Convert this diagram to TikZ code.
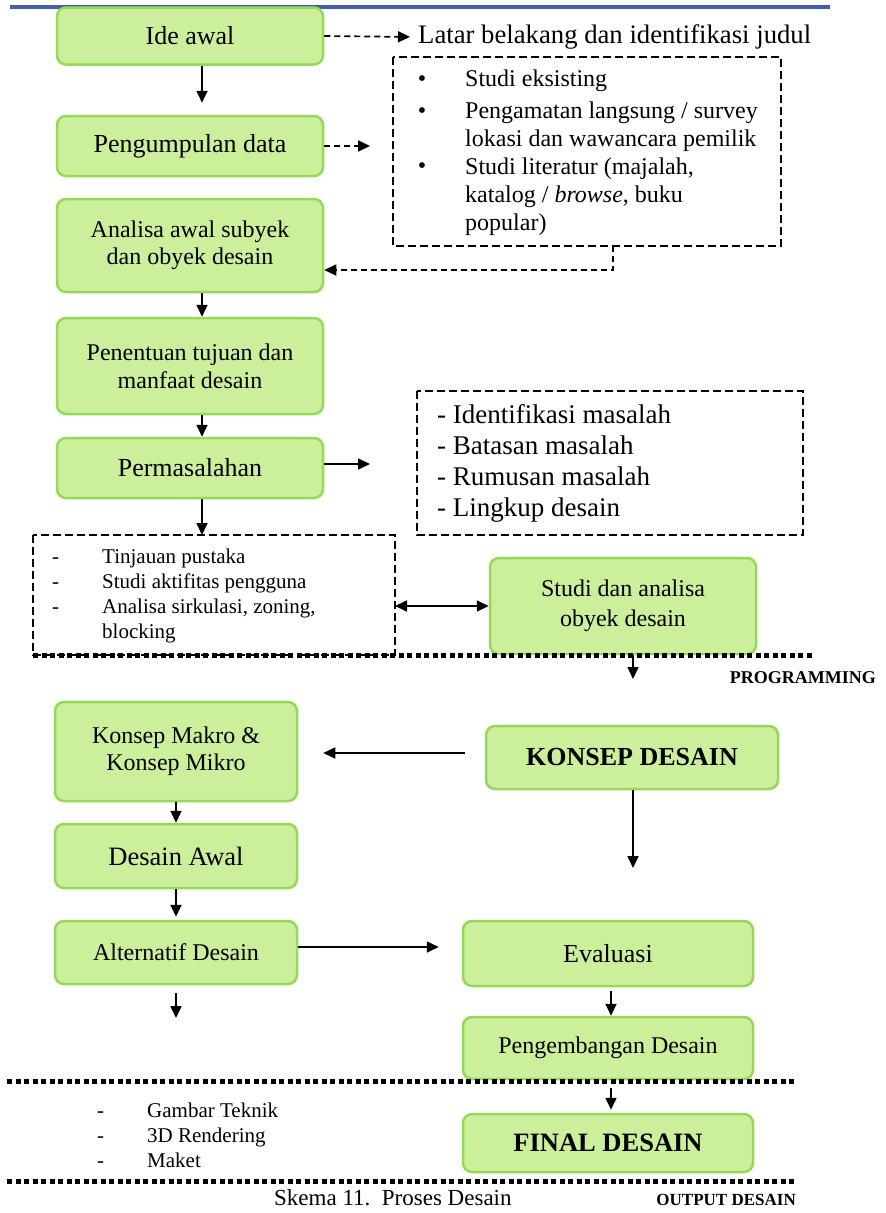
\documentclass[tikz,border=0pt]{standalone}
\usepackage{fontspec}
\setmainfont{Liberation Serif}
\usetikzlibrary{arrows.meta,calc}
\definecolor{gfill}{RGB}{204,239,156}
\definecolor{gdraw}{RGB}{150,216,88}
\definecolor{hblue}{RGB}{66,96,168}
\newcommand{\myfs}[2]{\fontsize{#1}{#2}\selectfont}
\tikzset{
  gbox/.style={draw=gdraw, fill=gfill, line width=2.5pt, rounded corners=9pt, align=center, inner sep=0pt},
  arr/.style={-{Triangle[length=12pt,width=11pt]}, line width=1.7pt},
  darr/.style={arr, dash pattern=on 6pt off 4pt},
  dbox/.style={draw, line width=1.6pt, dash pattern=on 8pt off 4pt},
  dotline/.style={line width=5pt, dash pattern=on 5pt off 3.5pt},
  plain/.style={inner sep=0pt, align=left},
}
\begin{document}
\begin{tikzpicture}[x=1pt,y=-1pt]
\useasboundingbox (0,0) rectangle (886,1213);
\fill[white] (0,0) rectangle (886,1213);
% header line
\draw[hblue, line width=4pt] (10,7) -- (830,7);

% left column
\node[gbox, minimum width=266pt, minimum height=57pt, font=\myfs{26}{30}] (ide) at (190,36) {Ide awal};
\node[gbox, minimum width=266pt, minimum height=60pt, font=\myfs{26}{30}] (pd) at (190,146) {Pengumpulan data};
\node[gbox, minimum width=266pt, minimum height=93pt, font=\myfs{24}{27}] (ana) at (190,245.5) {Analisa awal subyek\\dan obyek desain};
\node[gbox, minimum width=266pt, minimum height=96pt, font=\myfs{24}{28}] (pen) at (190,366) {Penentuan tujuan dan\\manfaat desain};
\node[gbox, minimum width=266pt, minimum height=60pt, font=\myfs{26}{30}] (perm) at (190,468) {Permasalahan};

% top right texts
\node[plain, anchor=west, font=\myfs{26.7}{30}] (latar) at (418,37) {Latar belakang dan identifikasi judul};
\draw[dbox] (393,57) rectangle (781,246);
\coordinate (b1r) at (613,246);
\node[plain, font=\myfs{24}{28}] (bu1) at (422,81) {\textbullet};
\node[plain, font=\myfs{24}{28}] (bu2) at (422,113) {\textbullet};
\node[plain, font=\myfs{24}{28}] (bu3) at (422,168) {\textbullet};
\node[plain, anchor=west, font=\myfs{24}{28}] (blist) at (465,152.5) {Studi eksisting\\[4pt]Pengamatan langsung / survey\\lokasi dan wawancara pemilik\\Studi literatur (majalah,\\katalog / \emph{browse}, buku\\popular)};

% identifikasi box
\draw[dbox] (417,391) rectangle (803,535);
\node[plain, anchor=west, font=\myfs{27}{31}] (ident) at (437,463.5) {- Identifikasi masalah\\- Batasan masalah\\- Rumusan masalah\\- Lingkup desain};

% tinjauan box
\draw[dbox] (33,535) rectangle (395,655);
\coordinate (tinE) at (395,606);
\node[plain, anchor=west, font=\myfs{21}{25}] (tdash) at (52,583) {\strut-\\\strut-\\\strut-};
\node[plain, anchor=west, font=\myfs{21}{25}] (tlist) at (102,595.5) {\strut Tinjauan pustaka\\\strut Studi aktifitas pengguna\\\strut Analisa sirkulasi, zoning,\\\strut blocking};

\node[gbox, minimum width=266pt, minimum height=96pt, font=\myfs{24}{30}] (studi) at (623,606) {Studi dan analisa\\obyek desain};

% programming line
\draw[dotline] (33,655) -- (813,655);
\node[plain, anchor=east, font=\bfseries\myfs{18}{20}] (prog) at (876,678) {PROGRAMMING};

% lower part
\node[gbox, minimum width=242pt, minimum height=99pt, font=\myfs{24}{27}] (km) at (176,751.5) {Konsep Makro \&\\Konsep Mikro};
\node[gbox, minimum width=292pt, minimum height=63pt, font=\bfseries\myfs{26}{30}] (kd) at (632,757.5) {KONSEP DESAIN};
\node[gbox, minimum width=242pt, minimum height=64pt, font=\myfs{26.5}{30}] (da) at (176,856) {Desain Awal};
\node[gbox, minimum width=242pt, minimum height=63pt, font=\myfs{24}{28}] (alt) at (176,952.5) {Alternatif Desain};
\node[gbox, minimum width=290pt, minimum height=65pt, font=\myfs{26}{30}] (eval) at (608,953.5) {Evaluasi};
\node[gbox, minimum width=290pt, minimum height=62pt, font=\myfs{24}{28}] (peng) at (608,1048) {Pengembangan Desain};
\node[gbox, minimum width=290pt, minimum height=58pt, font=\bfseries\myfs{26.5}{30}] (final) at (608,1143) {FINAL DESAIN};

\draw[dotline] (7,1081) -- (795,1081);
\draw[dotline] (7,1181) -- (795,1181);

\node[plain, anchor=west, font=\myfs{21}{25}] (gdash) at (97,1137) {\strut-\\\strut-\\\strut-};
\node[plain, anchor=west, font=\myfs{21}{25}] (glist) at (147,1137) {\strut Gambar Teknik\\\strut 3D Rendering\\\strut Maket};

\node[plain, anchor=east, font=\bfseries\myfs{17}{20}] (outd) at (796,1200) {OUTPUT DESAIN};
\node[plain, anchor=base west, font=\myfs{23}{26}] (cap) at (274,1205) {Skema 11.\ \ Proses Desain};

% connectors
\draw[arr, shorten >=12pt] ([xshift=12pt]ide.south) -- ([xshift=12pt]pd.north);
\draw[arr] ([xshift=12pt]ana.south) -- ([xshift=12pt]pen.north);
\draw[arr] ([xshift=12pt]pen.south) -- ([xshift=12pt]perm.north);
\coordinate (tinN) at (202,535);
\draw[arr] ([xshift=12pt]perm.south) -- (tinN);

\draw[darr, shorten >=8pt] (ide.east) -- (latar.west);
\coordinate (pdt) at (370,146);
\draw[darr] (pd.east) -- (pdt);
\draw[darr] (b1r) -- (b1r |- 0,270) -- (ana.east |- 0,270);
\coordinate (permt) at (370,464);
\draw[arr] (perm.east |- permt) -- (permt);

\draw[{Triangle[length=12pt,width=11pt]}-{Triangle[length=12pt,width=11pt]}, line width=1.7pt] (tinE) -- (studi.west);

\coordinate (pa) at (633,679);
\draw[arr] (studi.south -| pa) -- (pa);

\draw[arr, shorten <=20pt, shorten >=25pt] (kd.west |- 0,753) -- (km.east |- 0,753);
\coordinate (kda) at (633,868);
\draw[arr] (kd.south -| kda) -- (kda);
\draw[arr] (km.south) -- (da.north);
\draw[arr, shorten >=3pt] (da.south) -- (alt.north);
\coordinate (alta) at (176,1018);
\draw[arr, shorten <=8pt] (alt.south) -- (alta);
\draw[arr, shorten >=23pt] (alt.east |- 0,947) -- (eval.west |- 0,947);
\draw[arr, shorten <=4pt] ([xshift=3pt]eval.south) -- ([xshift=3pt]peng.north);
\draw[arr, shorten <=8pt, shorten >=3pt] ([xshift=3pt]peng.south) -- ([xshift=3pt]final.north);
\end{tikzpicture}
\end{document}
